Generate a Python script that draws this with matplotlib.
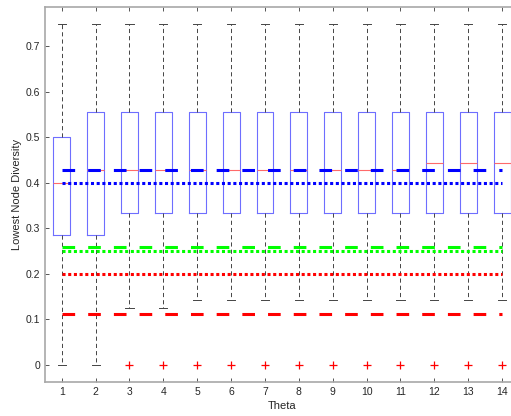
import numpy as np
import matplotlib
matplotlib.use('Agg')
import matplotlib.pyplot as plt

plt.rcParams['font.family'] = ['Liberation Sans', 'DejaVu Sans']
plt.rcParams['lines.scale_dashes'] = False

# box statistics per theta
theta = list(range(1, 15))
q1 = [0.2857, 0.2857] + [0.3333] * 12
med = [0.4] + [0.4286] * 10 + [0.4444] * 3
q3 = [0.5] + [0.5556] * 13
whislo = [0, 0, 0.125, 0.125] + [0.1429] * 10
whishi = [0.75] * 14
fliers = [[], []] + [[0.0]] * 12

# reference lines
blue_dash = 0.4286
blue_dot = 0.4
green_dash = 0.2593
green_dot = 0.25
red_dot = 0.2
red_dash = 0.1111

yticks = [0, 0.1, 0.2, 0.3, 0.4, 0.5, 0.6, 0.7]
ytick_labels = ['0', '0.1', '0.2', '0.3', '0.4', '0.5', '0.6', '0.7']

fig = plt.figure(figsize=(5.11, 4.16), dpi=100)
ax = fig.add_axes([0.0877, 0.0825, 0.928, 0.9014])

stats = []
for i in range(len(theta)):
    stats.append(dict(q1=q1[i], med=med[i], q3=q3[i], whislo=whislo[i],
                      whishi=whishi[i], fliers=fliers[i]))

ax.bxp(stats, positions=theta, widths=0.5, capwidths=0.24,
       boxprops=dict(color='#6e6eff', linewidth=0.8),
       medianprops=dict(color='#ff6a6a', linewidth=0.8),
       whiskerprops=dict(color='#444444', linewidth=0.7, dashes=(3.0, 2.2)),
       capprops=dict(color='#444444', linewidth=0.7),
       flierprops=dict(marker='+', markeredgecolor='red', markersize=6,
                       markeredgewidth=0.9, linestyle='none'))

xs = [theta[0], theta[-1]]
dash = (9.1, 9.4)
dot = (2.2, 1.9)
ax.plot(xs, [blue_dash] * 2, color='blue', lw=2.2, dashes=dash, zorder=5)
ax.plot(xs, [blue_dot] * 2, color='blue', lw=2.2, dashes=dot, zorder=5)
ax.plot(xs, [green_dash] * 2, color='#00ff00', lw=2.2, dashes=dash, zorder=5)
ax.plot(xs, [green_dot] * 2, color='#00ff00', lw=2.2, dashes=dot, zorder=5)
ax.plot(xs, [red_dot] * 2, color='red', lw=2.2, dashes=dot, zorder=5)
ax.plot(xs, [red_dash] * 2, color='red', lw=2.2, dashes=dash, zorder=5)

ax.set_xlim(0.5, 14.5)
ax.set_ylim(-0.0375, 0.7875)
ax.set_xticks(theta)
ax.set_xticklabels([str(t) for t in theta])
ax.set_yticks(yticks)
ax.set_yticklabels(ytick_labels)

for s in ax.spines.values():
    s.set_color('#a8a8a8')
    s.set_linewidth(1.2)
ax.tick_params(direction='in', length=3, width=0.7, color='#555555',
               labelsize=7.5, labelcolor='#262626', top=True)

ax.set_xlabel('Theta', fontsize=8, color='#262626')
ax.set_ylabel('Lowest Node Diversity', fontsize=8, color='#262626')
ax.xaxis.set_label_coords(0.5, -0.052)
ax.yaxis.set_label_coords(-0.048, 0.5)

fig.savefig('out.png', dpi=100)
